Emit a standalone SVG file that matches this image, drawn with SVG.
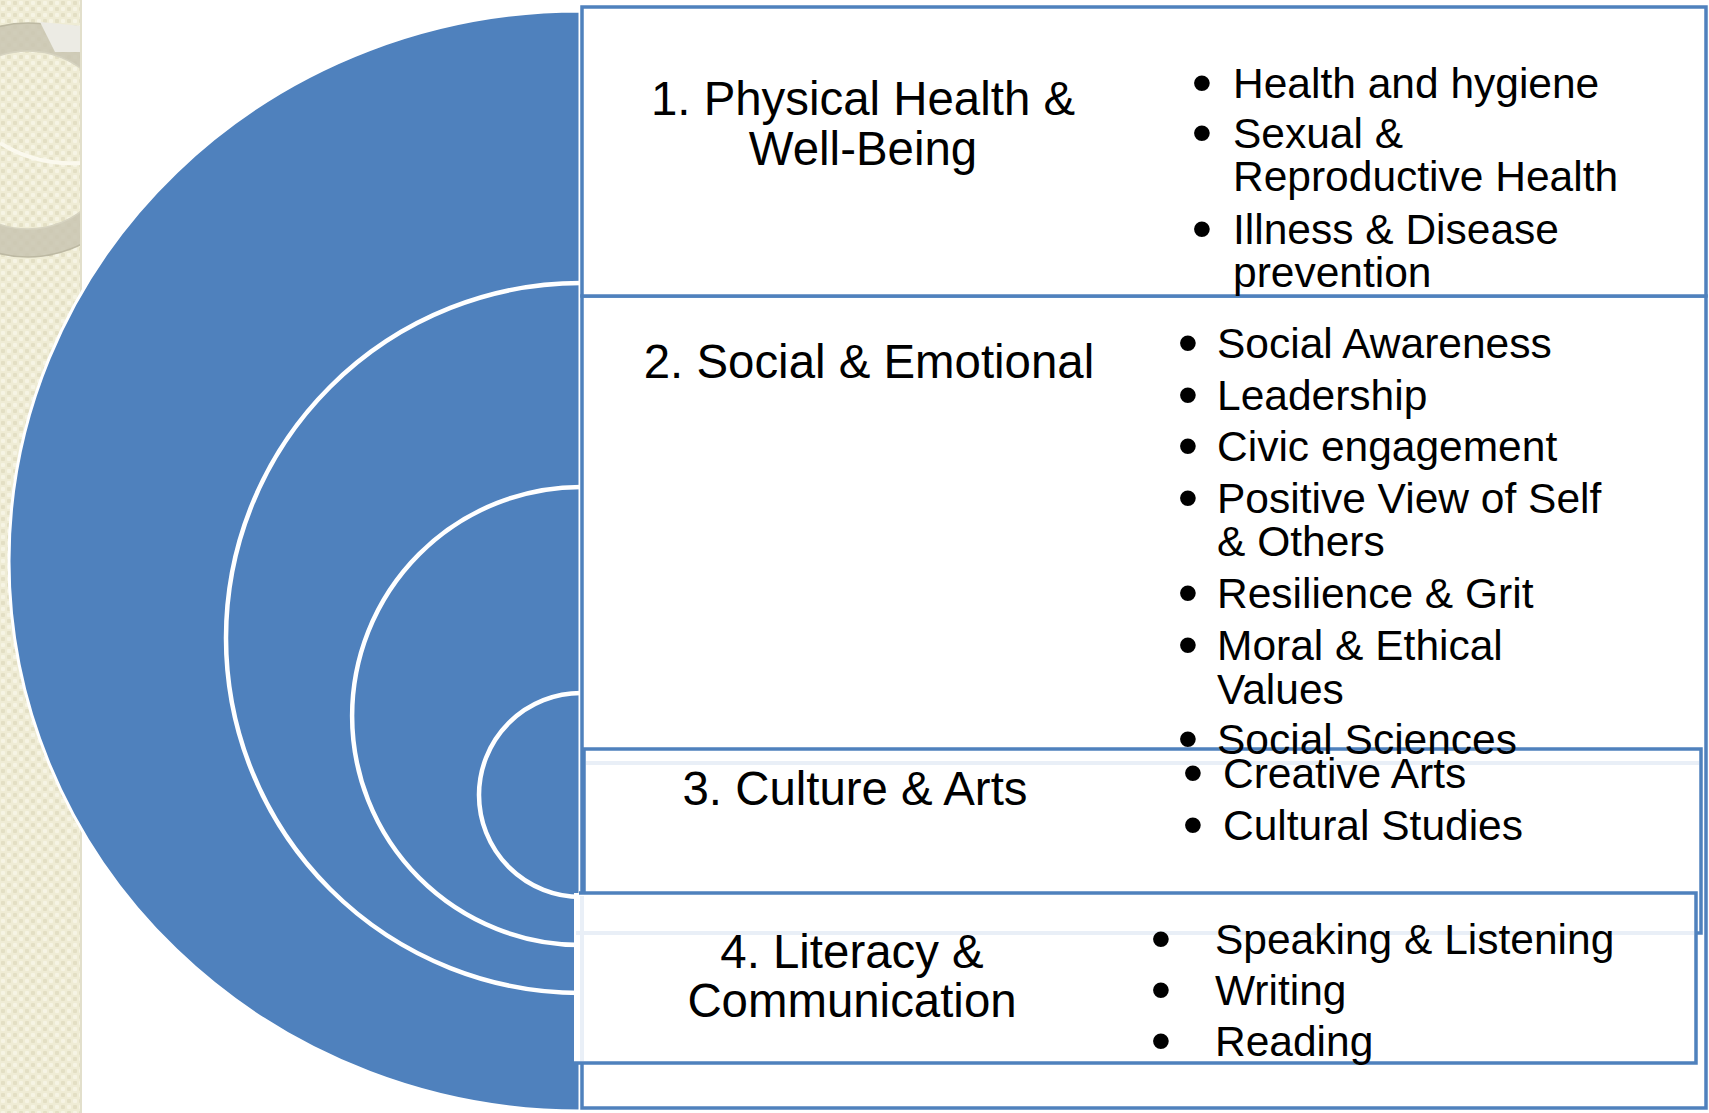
<svg xmlns="http://www.w3.org/2000/svg" width="1709" height="1113" viewBox="0 0 1709 1113">
  <defs>
    <pattern id="weave" width="12" height="12" patternUnits="userSpaceOnUse">
      <rect width="12" height="12" fill="#efecd5"/>
      <rect x="1" y="1" width="4" height="4" rx="1" fill="#e3dfc4"/>
      <rect x="7" y="7" width="4" height="4" rx="1" fill="#e3dfc4"/>
      <rect x="7" y="1" width="4" height="4" rx="1" fill="#f6f4e4"/>
      <rect x="1" y="7" width="4" height="4" rx="1" fill="#f6f4e4"/>
    </pattern>
    <clipPath id="stripClip">
      <rect x="0" y="0" width="82" height="1113"/>
    </clipPath>
    <style>
      .box { fill: #ffffff; stroke: #4f81bd; stroke-width: 3.5; }
      .edge { fill: none; stroke: #4f81bd; stroke-width: 3.5; }
      .shade { fill: none; stroke: #e9eff7; stroke-width: 4; }
      .ring { fill: none; stroke: #ffffff; stroke-width: 4.5; }
      .title { font-family: "Liberation Sans", Arial, sans-serif; font-size: 47.4px; fill: #000000; text-anchor: middle; }
      .item { font-family: "Liberation Sans", Arial, sans-serif; font-size: 42.5px; fill: #000000; }
      .dot { font-size: 58px; text-anchor: middle; }
      .txt { font-size: 42.5px; text-anchor: start; }
    </style>
  </defs>

  <rect width="1709" height="1113" fill="#ffffff"/>

  <!-- decorative side strip with ring -->
  <g id="side-strip">
    <rect x="0" y="0" width="82" height="1113" fill="url(#weave)"/>
    <g clip-path="url(#stripClip)">
      <ellipse cx="28" cy="140" rx="103" ry="103" fill="none" stroke="#c9c6b1" stroke-width="28" opacity="0.85"/>
      <ellipse cx="28" cy="140" rx="117" ry="117" fill="none" stroke="#bdb9a3" stroke-width="1.5"/>
      <ellipse cx="28" cy="140" rx="89" ry="89" fill="none" stroke="#d6d3c0" stroke-width="1.5"/>
      <path d="M40,22 L82,26 L82,52 L55,52 Z" fill="#ecebe4"/>
      <path d="M0,143 Q36,166 82,163" fill="none" stroke="#fbf9ee" stroke-width="4"/>
    </g>
    <line x1="81" y1="0" x2="81" y2="1113" stroke="#e2dfcb" stroke-width="2"/>
  </g>

  <!-- nested half circles -->
  <g id="arcs">
    <path d="M580,11 A571,550 0 0 0 580,1111 Z" fill="#4f81bd" stroke="#ffffff" stroke-width="3"/>
    <path class="ring" d="M581,283 A355,355 0 0 0 581,993"/>
    <path class="ring" d="M581,487 A229,229 0 0 0 581,945"/>
    <path class="ring" d="M581,693 A102,102 0 0 0 581,897"/>
  </g>

  <!-- domain boxes -->
  <g id="box-social">
    <rect class="box" x="582" y="296" width="1124" height="812"/>
  </g>
  <g id="box-physical">
    <rect class="box" x="582" y="7" width="1124" height="289"/>
  </g>
  <g id="box-culture">
    <rect class="box" x="584" y="749" width="1117" height="184"/>
    <line class="shade" x1="586" y1="763" x2="1699" y2="763"/>
  </g>
  <g id="box-literacy">
    <rect x="574" y="893" width="1122" height="170" fill="#ffffff"/>
    <polyline class="edge" points="579,893 1696,893 1696,1063 574,1063"/>
    <line class="shade" x1="576" y1="933" x2="1694" y2="933"/>
    <line class="shade" x1="582" y1="896" x2="582" y2="1061"/>
  </g>

  <!-- labels: each bullet line is one text element (marker + words) -->
  <g id="text-physical">
    <text class="title" x="863" y="115">1. Physical Health &amp;</text>
    <text class="title" x="863" y="165">Well-Being</text>
    <text class="item"><tspan class="dot" x="1202" y="102">•</tspan><tspan class="txt" x="1233" y="98">Health and hygiene</tspan></text>
    <text class="item"><tspan class="dot" x="1202" y="152">•</tspan><tspan class="txt" x="1233" y="148">Sexual &amp;</tspan></text>
    <text class="item" x="1233" y="191">Reproductive Health</text>
    <text class="item"><tspan class="dot" x="1202" y="248">•</tspan><tspan class="txt" x="1233" y="244">Illness &amp; Disease</tspan></text>
    <text class="item" x="1233" y="287">prevention</text>
  </g>

  <g id="text-social">
    <text class="title" x="869" y="378">2. Social &amp; Emotional</text>
    <text class="item"><tspan class="dot" x="1188" y="362">•</tspan><tspan class="txt" x="1217" y="358">Social Awareness</tspan></text>
    <text class="item"><tspan class="dot" x="1188" y="414">•</tspan><tspan class="txt" x="1217" y="410">Leadership</tspan></text>
    <text class="item"><tspan class="dot" x="1188" y="465">•</tspan><tspan class="txt" x="1217" y="461">Civic engagement</tspan></text>
    <text class="item"><tspan class="dot" x="1188" y="517">•</tspan><tspan class="txt" x="1217" y="513">Positive View of Self</tspan></text>
    <text class="item" x="1217" y="556">&amp; Others</text>
    <text class="item"><tspan class="dot" x="1188" y="612">•</tspan><tspan class="txt" x="1217" y="608">Resilience &amp; Grit</tspan></text>
    <text class="item"><tspan class="dot" x="1188" y="664">•</tspan><tspan class="txt" x="1217" y="660">Moral &amp; Ethical</tspan></text>
    <text class="item" x="1217" y="704">Values</text>
    <text class="item"><tspan class="dot" x="1188" y="758">•</tspan><tspan class="txt" x="1217" y="754">Social Sciences</tspan></text>
  </g>

  <g id="text-culture">
    <text class="title" x="855" y="805">3. Culture &amp; Arts</text>
    <text class="item"><tspan class="dot" x="1193" y="792">•</tspan><tspan class="txt" x="1223" y="788">Creative Arts</tspan></text>
    <text class="item"><tspan class="dot" x="1193" y="844">•</tspan><tspan class="txt" x="1223" y="840">Cultural Studies</tspan></text>
  </g>

  <g id="text-literacy">
    <text class="title" x="852" y="968">4. Literacy &amp;</text>
    <text class="title" x="852" y="1017">Communication</text>
    <text class="item"><tspan class="dot" x="1161" y="958">•</tspan><tspan class="txt" x="1215" y="954">Speaking &amp; Listening</tspan></text>
    <text class="item"><tspan class="dot" x="1161" y="1009">•</tspan><tspan class="txt" x="1215" y="1005">Writing</tspan></text>
    <text class="item"><tspan class="dot" x="1161" y="1060">•</tspan><tspan class="txt" x="1215" y="1056">Reading</tspan></text>
  </g>
</svg>
